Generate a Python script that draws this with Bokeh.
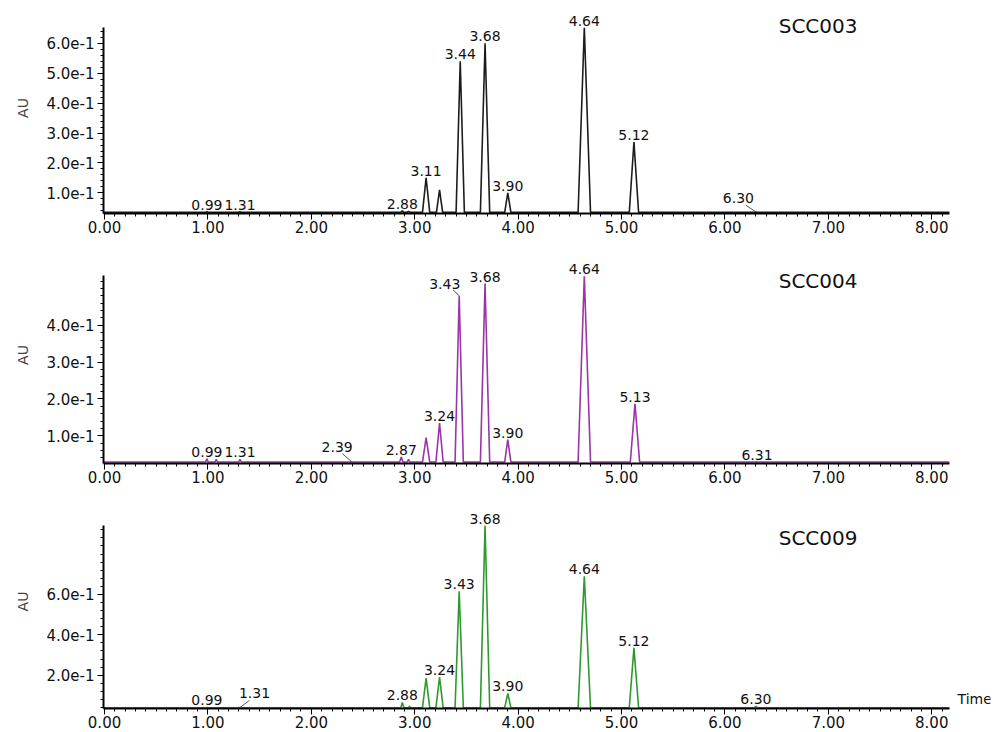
from bokeh.plotting import figure
from bokeh.layouts import column
from bokeh.models import (Range1d, FixedTicker, PrintfTickFormatter, CustomJSTickFormatter,
                          ColumnDataSource, LabelSet, Label)
from bokeh.core.properties import value
from bokeh.embed import file_html
from bokeh.resources import INLINE

FONT = "DejaVu Sans"

# sample names
names = ["SCC003", "SCC004", "SCC009"]

# SCC003: retention time (min), apex height (AU), half base width (min), peak label
t1 = [0.99, 1.31, 2.88, 2.94, 3.11, 3.24, 3.44, 3.68, 3.90, 4.64, 5.12, 6.30]
h1 = [0.037, 0.037, 0.040, 0.038, 0.150, 0.110, 0.540, 0.600, 0.100, 0.652, 0.270, 0.036]
w1 = [0.012, 0.012, 0.015, 0.015, 0.035, 0.030, 0.040, 0.045, 0.030, 0.060, 0.045, 0.012]
lab1 = ["0.99", "1.31", "2.88", "", "3.11", "", "3.44", "3.68", "3.90", "4.64", "5.12", "6.30"]

# SCC004
t2 = [0.99, 1.08, 1.31, 2.39, 2.87, 2.94, 3.11, 3.24, 3.43, 3.68, 3.90, 4.64, 5.13, 6.31]
h2 = [0.038, 0.036, 0.036, 0.030, 0.043, 0.036, 0.095, 0.135, 0.480, 0.513, 0.090, 0.533, 0.187, 0.030]
w2 = [0.012, 0.012, 0.012, 0.012, 0.015, 0.012, 0.035, 0.035, 0.040, 0.045, 0.030, 0.060, 0.045, 0.012]
lab2 = ["0.99", "", "1.31", "2.39", "2.87", "", "", "3.24", "3.43", "3.68", "3.90", "4.64", "5.13", "6.31"]

# SCC009
t3 = [0.99, 1.31, 2.88, 2.95, 3.11, 3.24, 3.43, 3.68, 3.90, 4.64, 5.12, 6.30]
h3 = [0.040, 0.040, 0.065, 0.046, 0.185, 0.190, 0.615, 0.940, 0.110, 0.690, 0.335, 0.046]
w3 = [0.012, 0.012, 0.015, 0.012, 0.035, 0.035, 0.040, 0.045, 0.030, 0.060, 0.045, 0.015]
lab3 = ["0.99", "1.31", "2.88", "", "", "3.24", "3.43", "3.68", "3.90", "4.64", "5.12", "6.30"]

baselines = [0.035, 0.029, 0.039]
y_tops = [0.653, 0.535, 0.942]
y_major = [[0.1, 0.2, 0.3, 0.4, 0.5, 0.6], [0.1, 0.2, 0.3, 0.4], [0.2, 0.4, 0.6]]
y_minor_step = [0.02, 0.02, 0.04]
x_major = [0, 1, 2, 3, 4, 5, 6, 7, 8]

colors = ["#1c1c1c", "#9a34a8", "#2e9a2e"]

# vertical layout of each panel in px: space above the axis, axis length, bottom border
extras = [25, 29, 31]
axis_px = [186, 188, 184]
bottoms = [31, 29, 21]
TOP = 2

# horizontal layout
WIDTH = 994
LEFT = 103
RIGHT = 4
PX_PER_MIN = 103.4
X0, X1 = -0.01, 8.17

# labels drawn off the apex with a leader line: (label dx, label dy px, line dx, line dy px)
leaders = {
    ("SCC003", "6.30"): (-0.17, 9, -0.10, 7),
    ("SCC004", "3.43"): (-0.14, 7, -0.06, 6),
    ("SCC004", "2.39"): (-0.14, 10, -0.09, 8),
    ("SCC009", "1.31"): (0.14, 10, 0.09, 7),
}
# title positions (data x, data y of text bottom)
title_pos = [(6.52, 0.617), (6.52, 0.487), (6.52, 0.82)]

data = [(t1, h1, w1, lab1), (t2, h2, w2, lab2), (t3, h3, w3, lab3)]

x_end = X0 + (WIDTH - LEFT - RIGHT) / PX_PER_MIN

plots = []
for i, (t, h, w, lab) in enumerate(data):
    b = baselines[i]
    y0 = b - 0.004
    scale = axis_px[i] / (y_tops[i] - y0)
    y_end = y_tops[i] + extras[i] / scale
    height = TOP + extras[i] + axis_px[i] + bottoms[i]
    p = figure(width=WIDTH, height=height, x_range=Range1d(X0, x_end), y_range=Range1d(y0, y_end),
               output_backend="svg", toolbar_location=None,
               min_border_left=LEFT, min_border_right=RIGHT,
               min_border_top=TOP, min_border_bottom=bottoms[i])
    p.grid.visible = False
    p.outline_line_color = None
    p.background_fill_color = "white"
    p.border_fill_color = "white"

    # chromatogram trace
    xs, ys = [X0], [b]
    for tt, hh, ww in sorted(zip(t, h, w)):
        xs += [tt - ww, tt, tt + ww]
        ys += [b, hh, b]
    xs.append(X1)
    ys.append(b)
    p.line(xs, ys, color=colors[i], line_width=1.6)

    # peak labels
    lx, ly, lt = [], [], []
    sx0, sy0, sx1, sy1 = [], [], [], []
    for tt, hh, s in zip(t, h, lab):
        if not s:
            continue
        key = (names[i], s)
        if key in leaders:
            dx, dy, ldx, ldy = leaders[key]
            lx.append(tt + dx)
            ly.append(hh + dy / scale)
            sx0.append(tt)
            sy0.append(hh)
            sx1.append(tt + ldx)
            sy1.append(hh + ldy / scale)
        else:
            lx.append(tt)
            ly.append(hh + 2 / scale)
        lt.append(s)
    if sx0:
        p.segment(sx0, sy0, sx1, sy1, color="#555555", line_width=1)
    src = ColumnDataSource(dict(x=lx, y=ly, text=lt))
    p.add_layout(LabelSet(x="x", y="y", text="text", source=src, text_align="center",
                          text_baseline="bottom", text_font=value(FONT),
                          text_font_size="14px", text_color="#111111"))

    # sample name
    p.add_layout(Label(x=title_pos[i][0], y=title_pos[i][1], text=names[i], text_font=FONT,
                       text_font_size="20px", text_baseline="bottom", text_color="#111111"))

    # axes
    p.xaxis.bounds = (X0, X1)
    p.xaxis.ticker = FixedTicker(ticks=x_major, minor_ticks=[k / 10 for k in range(0, 82)])
    p.xaxis.formatter = PrintfTickFormatter(format="%.2f")
    p.yaxis.bounds = (y0, y_tops[i])
    step = y_minor_step[i]
    n = int(y_tops[i] / step)
    p.yaxis.ticker = FixedTicker(ticks=y_major[i],
                                 minor_ticks=[round(k * step, 3) for k in range(1, n + 1) if k * step > y0])
    p.yaxis.formatter = CustomJSTickFormatter(code="return tick.toExponential(1);")
    p.yaxis.axis_label = "AU"
    p.yaxis.axis_label_text_font = FONT
    p.yaxis.axis_label_text_font_style = "normal"
    p.yaxis.axis_label_text_font_size = "14px"
    p.yaxis.axis_label_standoff = 12
    for ax in (p.xaxis, p.yaxis):
        ax.axis_line_width = 2
        ax.axis_line_color = "black"
        ax.major_tick_line_color = "black"
        ax.minor_tick_line_color = "black"
        ax.major_tick_in = 0
        ax.minor_tick_in = 0
        ax.major_tick_out = 6
        ax.minor_tick_out = 3
        ax.major_label_text_font = FONT
        ax.major_label_text_font_size = "15px"
        ax.major_label_text_color = "#111111"
    p.xaxis.major_label_standoff = 1
    p.yaxis.major_label_standoff = 3

    if i == 2:
        p.add_layout(Label(x=8.25, y=b, y_offset=1, text="Time", text_font=FONT, text_font_size="14px",
                           text_baseline="bottom", text_align="left", text_color="#111111"))
    plots.append(p)

layout = column(*plots, spacing=0)
open("out.html", "w").write(file_html(layout, INLINE))
